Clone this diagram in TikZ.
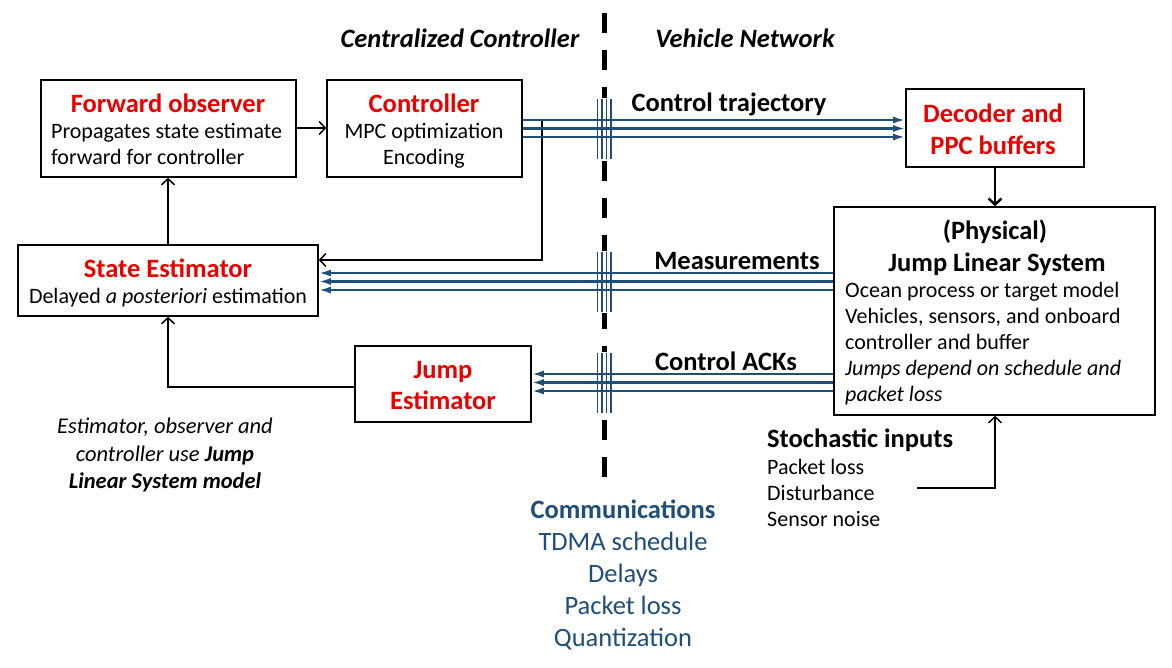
\documentclass[tikz,border=0pt]{standalone}
\usepackage{fontspec}
\setmainfont{Carlito}
\usetikzlibrary{arrows.meta}
\definecolor{tred}{RGB}{235,0,0}
\definecolor{tblue}{RGB}{31,78,121}
\begin{document}
\begin{tikzpicture}[x=1pt,y=-1pt,
  box/.style={draw, line width=1.6pt, inner sep=0pt, minimum width=#1},
  ttl/.style={font=\fontsize{26.5}{30}\selectfont\bfseries, text=tred, inner sep=0pt, anchor=base},
  hd/.style={font=\fontsize{26.5}{30}\selectfont\bfseries, inner sep=0pt, anchor=base},
  hdi/.style={font=\fontsize{26.5}{30}\selectfont\bfseries\itshape, inner sep=0pt, anchor=base},
  body/.style={font=\fontsize{22}{26}\selectfont, inner sep=0pt, anchor=base},
  comm/.style={font=\fontsize{26.5}{30}\selectfont, text=tblue, inner sep=0pt, anchor=base},
  blk/.style={line width=1.5pt, -{Straight Barb[length=6pt,width=13pt]}},
  blu/.style={tblue, line width=2.2pt, -{Latex[length=12pt,width=7pt]}},
  xmark/.style={tblue, line width=1.5pt}
]
\useasboundingbox (0,0) rectangle (1172,667);
\fill[white] (0,0) rectangle (1172,667);

% dashed divider
\draw[line width=5pt, dash pattern=on 20pt off 17pt] (604,13) -- (604,478);

% boxes
\node[box=255pt, minimum height=97pt] (fo) at (168.5,128.5) {};
\node[box=195pt, minimum height=97pt] (ctrl) at (424.5,128.5) {};
\node[box=300pt, minimum height=71pt] (se) at (168,280.5) {};
\node[box=176pt, minimum height=76pt] (je) at (443,384) {};
\node[box=178pt, minimum height=78pt] (dec) at (995,128) {};
\node[box=321pt, minimum height=208pt] (jls) at (994.5,311) {};

% box texts
\node[ttl] (fot) at (168,112) {Forward observer};
\node[body, anchor=base west] (fob1) at (51,138) {Propagates state estimate};
\node[body, anchor=base west] (fob2) at (51,164) {forward for controller};
\node[ttl] (ctt) at (424,112) {Controller};
\node[body] (ctb1) at (424,138) {MPC optimization};
\node[body] (ctb2) at (424,164) {Encoding};
\node[ttl] (set) at (168,277) {State Estimator};
\node[body] (seb) at (168,303) {Delayed \textit{a posteriori} estimation};
\node[ttl] (jet1) at (443,378) {Jump};
\node[ttl] (jet2) at (443,409) {Estimator};
\node[ttl] (dect1) at (993,122) {Decoder and};
\node[ttl] (dect2) at (993,154) {PPC buffers};
\node[hd] (jlt1) at (995,239) {(Physical)};
\node[hd] (jlt2) at (997,271) {Jump Linear System};
\node[body, anchor=base west] (jlb1) at (845,297) {Ocean process or target model};
\node[body, anchor=base west] (jlb2) at (845,323) {Vehicles, sensors, and onboard};
\node[body, anchor=base west] (jlb3) at (845,349) {controller and buffer};
\node[body, anchor=base west] (jlb4) at (845,375) {\itshape Jumps depend on schedule and};
\node[body, anchor=base west] (jlb5) at (845,401) {\itshape packet loss};

% headings
\node[hdi] (cc) at (460,47) {Centralized Controller};
\node[hdi] (vn) at (745,47) {Vehicle Network};
\node[hd] (lct) at (729,111) {Control trajectory};
\node[hd] (lms) at (737,269) {Measurements};
\node[hd] (lack) at (726,370) {Control ACKs};

% stochastic inputs
\node[hd, anchor=base west] (st) at (767,447) {Stochastic inputs};
\node[body, anchor=base west] (st1) at (767,474) {Packet loss};
\node[body, anchor=base west] (st2) at (767,500) {Disturbance};
\node[body, anchor=base west] (st3) at (767,526) {Sensor noise};

% communications
\node[comm, font=\fontsize{26.5}{30}\selectfont\bfseries] (cm) at (623,518) {Communications};
\node[comm] (cm1) at (623,550) {TDMA schedule};
\node[comm] (cm2) at (623,582) {Delays};
\node[comm] (cm3) at (623,614) {Packet loss};
\node[comm] (cm4) at (623,646) {Quantization};

% note
\node[body, font=\fontsize{22.5}{27.5}\selectfont\itshape] (n1) at (165,433) {Estimator, observer and};
\node[body, font=\fontsize{22.5}{27.5}\selectfont\itshape] (n2) at (165,461) {controller use \textbf{Jump}};
\node[body, font=\fontsize{22.5}{27.5}\selectfont\itshape\bfseries] (n3) at (165,488) {Linear System model};

% black connectors
\draw[blk] (fo.east |- 0,128) -- (ctrl.west |- 0,128);
\draw[blk] (se.north -| 168,0) -- (fo.south -| 168,0);
\coordinate (c1) at (542,120);
\coordinate (c2) at (542,260);
\draw[blk] (c1) -- (c2) -- (se.east |- c2);
\coordinate (j1) at (168,387);
\draw[blk] (je.west |- j1) -- (j1) -- (se.south -| j1);
\draw[line width=2.5pt, -{Straight Barb[length=6pt,width=13pt]}] (dec.south) -- (jls.north -| dec.south);
\coordinate (s1) at (917,488);
\coordinate (s2) at (995,488);
\draw[blk] (s1) -- (s2) -- (jls.south -| s2);

% white backing of crossing marks
\foreach \yc in {128.5,281.5,382.5} {
  \fill[white] (595.5,\yc-31) rectangle (613,\yc+31);
}

% blue triple arrows
\foreach \yy in {120,128.5,137} {
  \draw[blu] (ctrl.east |- 0,\yy) -- (dec.west |- 0,\yy);
}
\foreach \yy in {273,281.5,290} {
  \draw[blu] (jls.west |- 0,\yy) -- (se.east |- 0,\yy);
}
\foreach \yy in {374,382.5,391} {
  \draw[blu] (jls.west |- 0,\yy) -- (je.east |- 0,\yy);
}

% crossing marks
\foreach \yc in {128.5,281.5,382.5} {
  \foreach \xx in {597.7,602.1,606.5,610.9} {
    \draw[xmark] (\xx,\yc-30) -- (\xx,\yc+30);
  }
}
\end{tikzpicture}
\end{document}
